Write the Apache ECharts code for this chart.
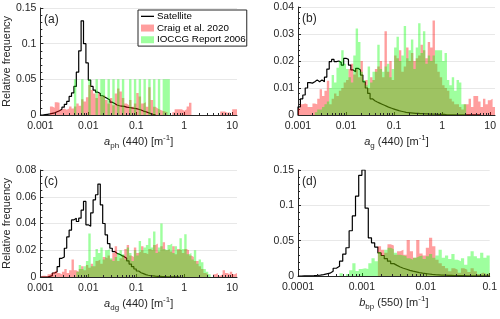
<!DOCTYPE html>
<html><head><meta charset="utf-8">
<script src="https://cdn.jsdelivr.net/npm/echarts@6/dist/echarts.min.js"></script>
<style>html,body{margin:0;padding:0;background:#fff}#c{width:500px;height:319px}</style>
</head><body><div id="c"></div>
<script>
// ---- DATA (histogram bins in log10 space; each value = relative frequency of a bin) ----
const binLoABC = -3;      // log10 of first bin edge, panels a-c
const binLoD = -4;        // log10 of first bin edge, panel d
const binW = 0.05;        // bin width in decades

// (a) a_ph(440)
const satA = [0,0.0005,0.001,0.0015,0.0023,0.003,0.0045,0.006,0.008,0.011,
 0.015,0.019,0.026,0.031,0.040,0.060,0.090,0.132,0.100,0.073,
 0.049,0.040,0.035,0.032,0.030,0.027,0.025,0.023,0.021,0.018,
 0.016,0.014,0.013,0.0125,0.012,0.011,0.0105,0.010,0.0095,0.009,
 0.008,0.007,0.0055,0.0045,0.0033,0.002,0.001,0.0004];
const craigA = [0,0,0,0,0.012,0.010,0.018,0.017,0.0075,0.009,
 0.0075,0.009,0.012,0.009,0.012,0.016,0.013,0.022,0.019,0.025,
 0.042,0.035,0.030,0.024,0.030,0.026,0.028,0.021,0.016,0.024,
 0.0135,0.030,0.037,0.033,0.024,0.016,0.0135,0.021,0.0117,0.016,
 0.031,0.026,0.016,0.018,0.0117,0.039,0.021,0.0117,0.009,0.0075,
 0.006,0.005,0.004,0,0,0.004,0.008,0.008,0.008,0.006,
 0.008,0.012,0.017,0,0,0,0,0,0,0,
 0,0,0,0,0,0.005,0.005,0.003,0.004,0,
 0.008,0.008];
const ioccgA = [0,0,0,0,0,0,0,0,0,0,
 0,0,0,0,0.05,0,0,0.05,0,0,
 0.05,0,0,0.05,0,0.05,0.05,0,0.05,0,
 0.05,0,0.05,0,0.05,0,0,0.05,0,0.05,
 0,0.05,0,0.05,0,0.05,0,0.05,0,0.05,
 0,0.05,0.05,0.05];

// (b) a_g(440)
const satB = [0.003,0.006,0.0074,0.010,0.012,0.0118,0.0123,0.013,0.0123,0.013,
 0.0123,0.014,0.017,0.0198,0.0206,0.0198,0.020,0.0194,0.0185,0.021,
 0.0206,0.0185,0.0167,0.016,0.0173,0.0167,0.0148,0.0123,0.010,0.008,
 0.006,0.0053,0.0048,0.0044,0.004,0.0036,0.0032,0.0028,0.0025,0.0022,
 0.0019,0.0016,0.0014,0.0012,0.001,0.0009,0.0008,0.0007,0.0006,0.0006,
 0.0005,0.0005,0.0004,0.0004,0.0003,0.0003,0.0003,0.0002,0.0002,0.0002,
 0.0002,0.0001,0.0001,0.0001,0.0001,0.0001,0.0001,0.0001,0.0001,0.0001,
 0.0001,0.0001,0.0001,0.0001,0.0001,0.0001];
const craigB = [0.0025,0.004,0.0043,0.004,0.003,0.003,0.0043,0.004,0.006,0.0095,
 0.007,0.009,0.0127,0.004,0.006,0.008,0.007,0.009,0.010,0.012,
 0.013,0.017,0.019,0.015,0.017,0.014,0.020,0.012,0.013,0.010,
 0.014,0.013,0.017,0.018,0.020,0.014,0.031,0.016,0.020,0.013,
 0.022,0.021,0.024,0.016,0.018,0.025,0.020,0.023,0.020,0.021,
 0.022,0.026,0.024,0.021,0.027,0.025,0.035,0.019,0.016,0.014,
 0.011,0.010,0.009,0.006,0.005,0.004,0.004,0.003,0.002,0.004,
 0.004,0.006,0.003,0.007,0.007,0.005,0.003,0.006,0.004,0.0055,
 0.006,0.003];
const ioccgB = [0,0,0,0,0,0,0,0.001,0.002,0.002,
 0.003,0.004,0.005,0.010,0.0148,0.012,0.0175,0.020,0.024,0.019,
 0.017,0.014,0.012,0.022,0.032,0.027,0.016,0.013,0.011,0.018,
 0.012,0.016,0.016,0.026,0.017,0.016,0.018,0.019,0.014,0.017,
 0.025,0.029,0.020,0.022,0.033,0.021,0.024,0.028,0.017,0.025,
 0.034,0.023,0.031,0.019,0.022,0.020,0.022,0.024,0.024,0.024,
 0.020,0.023,0.013,0.011,0.014,0.009,0.013,0.012,0.004,0.004];

// (c) a_dg(440)
const satC = [0,0,0,0.0005,0.001,0.003,0.004,0.0077,0.014,0.015,
 0.0215,0.030,0.035,0.0427,0.044,0.0415,0.044,0.050,0.0565,0.039,
 0.038,0.048,0.0577,0.0615,0.0695,0.054,0.040,0.0315,0.025,0.0215,
 0.019,0.0177,0.017,0.016,0.0152,0.014,0.012,0.0097,0.0077,0.006,
 0.0045,0.0032,0.0025,0.0018,0.0013,0.001,0.0008,0.0006,0.0005,0.0004,
 0.0003,0.0003,0.0002,0.0002,0.0002,0.0001,0.0001,0.0001];
const craigC = [0.001,0.001,0.0005,0.002,0.003,0.004,0.005,0.003,0.002,0.004,
 0.006,0.003,0.005,0.013,0.005,0.004,0.006,0.008,0.005,0.009,
 0.007,0.010,0.008,0.012,0.013,0.010,0.015,0.014,0.016,0.013,
 0.018,0.023,0.012,0.014,0.016,0.021,0.024,0.016,0.015,0.022,
 0.018,0.019,0.023,0.018,0.017,0.021,0.020,0.024,0.025,0.019,
 0.023,0.026,0.020,0.021,0.019,0.023,0.017,0.021,0.020,0.018,
 0.021,0.020,0.016,0.015,0.012,0.012,0.008,0.006,0.003,0.002,
 0,0,0.002,0.003,0.001,0.002,0.005,0.003,0.002,0.004,
 0.002,0.003];
const ioccgC = [0,0,0,0,0,0,0,0,0,0,
 0,0,0,0,0,0.004,0.009,0.006,0.008,0.012,
 0.0325,0.008,0.015,0.021,0.018,0.022,0.013,0.020,0.021,0.014,
 0.012,0.015,0.018,0.020,0.017,0.013,0.022,0.018,0.012,0.020,
 0.016,0.027,0.020,0.022,0.024,0.029,0.022,0.034,0.018,0.022,
 0.040,0.021,0.020,0.024,0.025,0.018,0.023,0.020,0.029,0.021,
 0.032,0.017,0.018,0.013,0.020,0.010,0.013,0.011,0.006,0.004,
 0.002];

// (d) b_bp(550)
const satD = [0,0.0001,0.0002,0.0003,0.0005,0.0008,0.0013,0.002,0.003,0.004,
 0.0066,0.011,0.0137,0.021,0.031,0.040,0.064,0.085,0.113,0.1425,
 0.150,0.096,0.054,0.047,0.041,0.0326,0.029,0.0245,0.021,0.0175,
 0.015,0.0127,0.011,0.0095,0.008,0.0068,0.0058,0.0048,0.004,0.0033,
 0.0028,0.0023,0.0019,0.0016,0.0013,0.0011,0.0009,0.0008,0.0006,0.0005,
 0.0004,0.0004,0.0003,0.0003,0.0002,0.0002,0.0002,0.0001,0.0001,0.0001];
const craigD = [0,0,0,0,0,0,0,0,0,0,
 0,0,0,0,0,0,0,0,0,0,
 0,0,0,0,0,0.042,0.037,0.033,0.045,0.043,
 0.030,0.035,0.037,0.030,0.051,0.035,0.026,0.051,0.032,0.029,
 0.040,0.054,0.042,0.023,0.018,0.014,0.011,0.0066,0.011,0.009,
 0.0045,0.011,0.009,0.0057,0.011,0.0066,0.003,0.005,0.003,0.004];
const ioccgD = [0,0,0,0,0,0,0,0,0,0,
 0,0,0,0.004,0,0.003,0.008,0.018,0.007,0.010,
 0.011,0.010,0.018,0.025,0.021,0.034,0.029,0.037,0.040,0.038,
 0.033,0.030,0.029,0.028,0.025,0.023,0.026,0.028,0.029,0.024,
 0.028,0.031,0.026,0.029,0.037,0.026,0.029,0.024,0.031,0.023,
 0.021,0.025,0.016,0.028,0.035,0.028,0.025,0.033,0.026,0.029];

const seriesNames = ['Satellite','Craig et al. 2020','IOCCG Report 2006'];
const xTicksABC = [-3,-2,-1,0,1];
const xTickLabelsABC = ['0.001','0.01','0.1','1','10'];
const xTicksD = [-4,-3,-2,-1];
const xTickLabelsD = ['0.0001','0.001','0.01','0.1'];
const panelTags = ['(a)','(b)','(c)','(d)'];

// ---- helpers ----
function stairs(lo, w, vals){
  const pts=[[lo,0]];
  vals.forEach((v,i)=>{ pts.push([lo+i*w, v]); pts.push([lo+(i+1)*w, v]); });
  pts.push([lo+vals.length*w, 0]);
  return pts;
}
function minorLog(lo, hi){
  const out=[];
  for(let n=Math.floor(lo); n<hi; n++) for(let k=2;k<=9;k++){ const x=n+Math.log10(k); if(x>lo && x<hi) out.push([x,0]); }
  return out;
}

const FONT = "'Liberation Sans', Arial, Helvetica, sans-serif";
const TXT = '#262626';
const RED = 'rgba(255,0,0,0.38)';
const GREEN = 'rgba(0,255,0,0.38)';
const richName = {
  it:{fontStyle:'italic',fontSize:11,lineHeight:16,verticalAlign:'middle',fontFamily:FONT,color:TXT},
  n:{fontSize:11,lineHeight:16,verticalAlign:'middle',fontFamily:FONT,color:TXT},
  sub:{fontSize:8,lineHeight:16,verticalAlign:'bottom',fontFamily:FONT,color:TXT},
  sup:{fontSize:8,lineHeight:16,verticalAlign:'top',fontFamily:FONT,color:TXT}
};

const panels = [
 {grid:{left:40,top:8,width:197,height:107}, xmin:-3,xmax:1.1, ymax:0.15,yint:0.05,ysplit:5, lo:binLoABC,
  sat:satA,craig:craigA,ioccg:ioccgA, ticks:xTicksABC,labels:xTickLabelsABC,
  xname:'{it|a}{sub|ph}{n| (440) [m}{sup|-1}{n|]}', yname:'Relative frequency'},
 {grid:{left:298,top:7,width:197,height:108}, xmin:-3,xmax:1.1, ymax:0.04,yint:0.01,ysplit:5, lo:binLoABC,
  sat:satB,craig:craigB,ioccg:ioccgB, ticks:xTicksABC,labels:xTickLabelsABC,
  xname:'{it|a}{sub|g}{n| (440) [m}{sup|-1}{n|]}', yname:''},
 {grid:{left:40,top:170,width:197,height:107}, xmin:-3,xmax:1.1, ymax:0.08,yint:0.02,ysplit:4, lo:binLoABC,
  sat:satC,craig:craigC,ioccg:ioccgC, ticks:xTicksABC,labels:xTickLabelsABC,
  xname:'{it|a}{sub|dg}{n| (440) [m}{sup|-1}{n|]}', yname:'Relative frequency'},
 {grid:{left:298,top:170,width:196,height:106}, xmin:-4,xmax:-1, ymax:0.15,yint:0.05,ysplit:5, lo:binLoD,
  sat:satD,craig:craigD,ioccg:ioccgD, ticks:xTicksD,labels:xTickLabelsD,
  xname:'{it|b}{sub|bp}{n| (550) [m}{sup|-1}{n|]}', yname:''}
];

const grids=[], xAxes=[], yAxes=[], series=[], graphics=[];
panels.forEach((p,k)=>{
  grids.push(Object.assign({containLabel:false}, p.grid));
  xAxes.push({gridIndex:k,type:'value',min:p.xmin,max:p.xmax,interval:1,
    axisLine:{show:true,onZero:false,lineStyle:{color:TXT,width:1}},
    axisTick:{show:true,inside:true,length:3,customValues:p.ticks,lineStyle:{color:TXT}},
    axisLabel:{customValues:p.ticks,formatter:(v)=>{const i=p.ticks.indexOf(v);return i<0?'':p.labels[i];},
      fontSize:10.5,color:TXT,margin:6,fontFamily:FONT},
    splitLine:{show:false},
    name:p.xname,nameLocation:'middle',nameGap:19,nameTextStyle:{fontSize:11,color:TXT,fontFamily:FONT,rich:richName}});
  yAxes.push({gridIndex:k,type:'value',min:0,max:p.ymax,interval:p.yint,
    axisLine:{show:true,onZero:false,lineStyle:{color:TXT,width:1}},
    axisTick:{show:true,inside:true,length:3,lineStyle:{color:TXT}},
    minorTick:{show:true,splitNumber:p.ysplit,length:2,lineStyle:{color:TXT}},
    axisLabel:{fontSize:10.5,color:TXT,margin:4,fontFamily:FONT},
    splitLine:{show:true,lineStyle:{color:'#e8e8e8',width:1}},
    name:p.yname,nameLocation:'middle',nameGap:26,nameTextStyle:{fontSize:11,color:TXT,fontFamily:FONT}});
  series.push({name:seriesNames[0],type:'line',xAxisIndex:k,yAxisIndex:k,data:stairs(p.lo,binW,p.sat),
    symbol:'none',color:'#000',lineStyle:{color:'#000',width:1.2},z:2,animation:false});
  series.push({name:seriesNames[1],type:'line',xAxisIndex:k,yAxisIndex:k,data:stairs(p.lo,binW,p.craig),
    symbol:'none',color:RED,itemStyle:{color:RED},lineStyle:{width:0,opacity:0},areaStyle:{color:RED,opacity:1},z:3,animation:false});
  series.push({name:seriesNames[2],type:'line',xAxisIndex:k,yAxisIndex:k,data:stairs(p.lo,binW,p.ioccg),
    symbol:'none',color:GREEN,itemStyle:{color:GREEN},lineStyle:{width:0,opacity:0},areaStyle:{color:GREEN,opacity:1},z:4,animation:false});
  series.push({type:'custom',xAxisIndex:k,yAxisIndex:k,data:minorLog(p.xmin,p.xmax),silent:true,z:10,animation:false,
    renderItem:(params,api)=>{const c=api.coord([api.value(0),0]);const x=Math.round(c[0])+0.5;
      return {type:'line',shape:{x1:x,y1:c[1],x2:x,y2:c[1]-2},style:{stroke:TXT,lineWidth:1}};}});
  graphics.push({type:'text',left:p.grid.left+4,top:p.grid.top+6,z:20,
    style:{text:panelTags[k],fontSize:12,fill:TXT,fontFamily:FONT}});
});

const chart = echarts.init(document.getElementById('c'),null,{renderer:'canvas'});
chart.setOption({
  animation:false,
  backgroundColor:'#fff',
  textStyle:{fontFamily:FONT},
  grid:grids, xAxis:xAxes, yAxis:yAxes, series:series, graphic:graphics,
  legend:{left:138,top:10,orient:'vertical',itemGap:1,itemWidth:13,itemHeight:7,padding:[1,1,1,3],
    borderColor:TXT,borderWidth:1,backgroundColor:'#fff',selectedMode:false,
    textStyle:{fontSize:9.8,lineHeight:10.7,color:'#000',fontFamily:FONT,padding:[0,0,0,-2]},
    data:[{name:seriesNames[0],icon:'path://M0,0L14,0L14,1.4L0,1.4Z',itemStyle:{color:'#000'}},
          {name:seriesNames[1],icon:'rect',itemStyle:{color:RED}},
          {name:seriesNames[2],icon:'rect',itemStyle:{color:GREEN}}]}
});
</script></body></html>
